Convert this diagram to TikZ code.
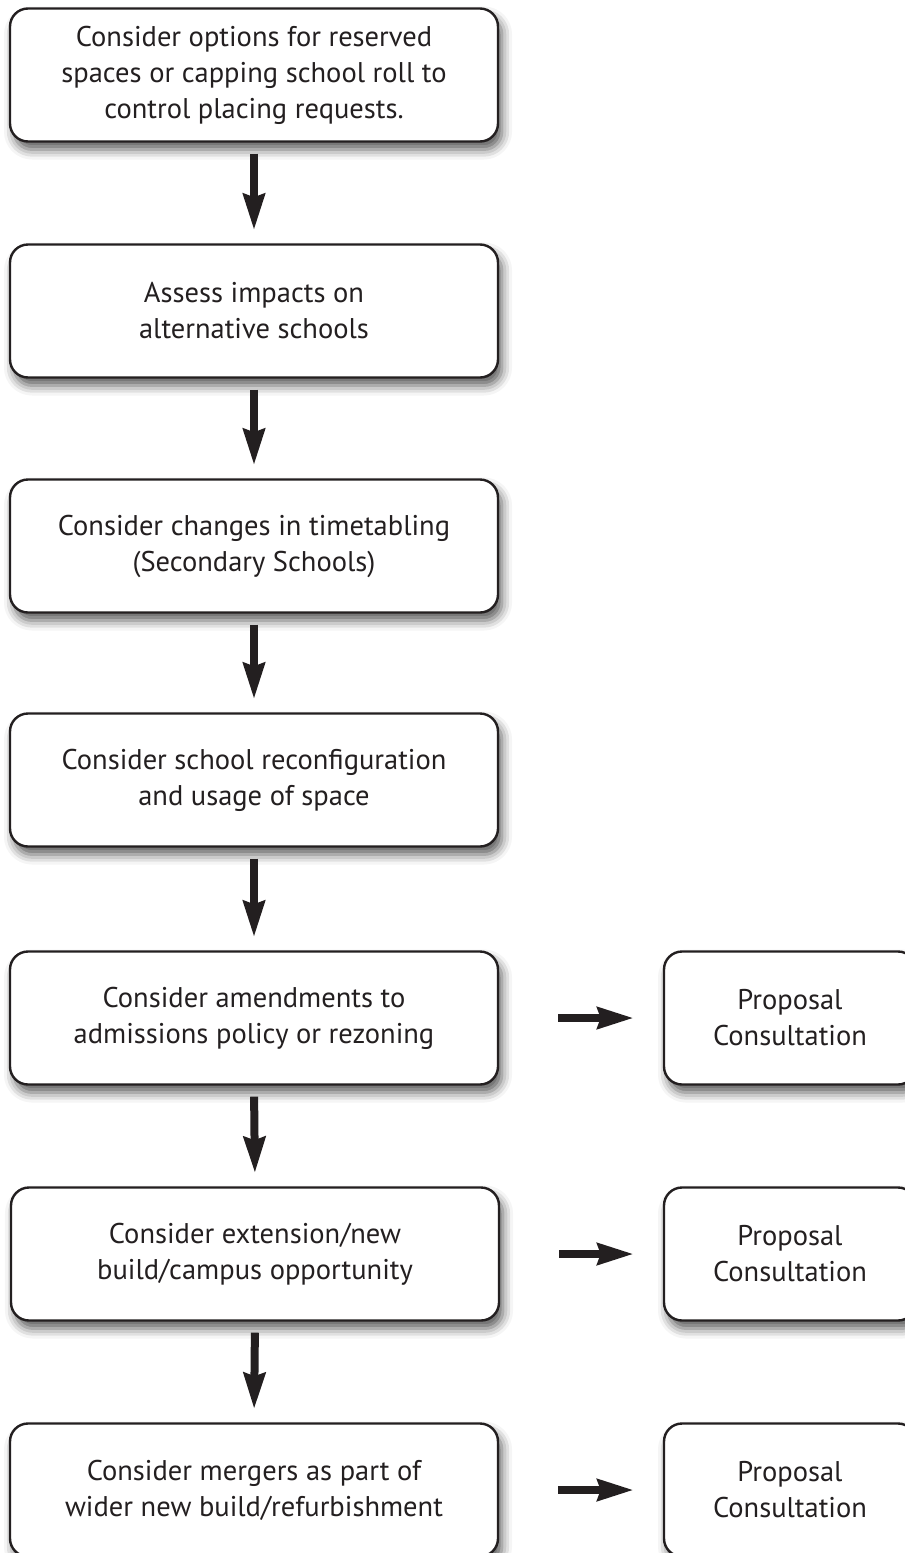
\documentclass[tikz,border=0pt]{standalone}
\usepackage{fontspec}
\setmainfont{PT Sans}
\usetikzlibrary{arrows.meta,shadows.blur}

\definecolor{inkgray}{HTML}{231F20}

\tikzset{
  stagebox/.style={draw=inkgray, line width=2.4pt, rounded corners=18pt, fill=white,
    minimum width=488pt, minimum height=133pt, align=center, text=inkgray,
    font=\fontsize{28.5pt}{36pt}\selectfont,
    blur shadow={shadow xshift=4pt, shadow yshift=-8pt, shadow blur radius=10pt, shadow opacity=65}},
  outbox/.style={stagebox, minimum width=252pt},
  fatarrow/.style={draw=inkgray, line width=8pt,
    -{Stealth[length=36pt,width=21pt,inset=3pt,fill=inkgray]}}
}

\begin{document}
\begin{tikzpicture}[x=1pt,y=-1pt]

\useasboundingbox (0,0) rectangle (905,1553);
\clip (0,0) rectangle (905,1553);

% colonne principale
\node[stagebox] (opts)   at (254,75)   {Consider options for reserved\\spaces or capping school roll to\\control placing requests.};
\node[stagebox] (assess) at (254,311)  {Assess impacts on\\alternative schools};
\node[stagebox] (timet)  at (254,546)  {Consider changes in timetabling\\(Secondary Schools)};
\node[stagebox] (reconf) at (254,780)  {Consider school reconfiguration\\and usage of space};
\node[stagebox] (amend)  at (254,1018) {Consider amendments to\\admissions policy or rezoning};
\node[stagebox] (extn)   at (255,1254) {Consider extension/new\\build/campus opportunity};
\node[stagebox] (merge)  at (254,1490) {Consider mergers as part of\\wider new build/refurbishment};

% consultations
\node[outbox] (consA) at (790,1018) {Proposal\\Consultation};
\node[outbox] (consB) at (790,1254) {Proposal\\Consultation};
\node[outbox] (consC) at (790,1490) {Proposal\\Consultation};

\foreach \a/\b in {opts/assess,assess/timet,timet/reconf,reconf/amend,amend/extn,extn/merge}
  \draw[fatarrow, shorten <=11pt, shorten >=13pt] (\a.south) -- (\b.north);

\foreach \a/\b in {amend/consA,extn/consB,merge/consC}
  \draw[fatarrow, shorten <=59pt, shorten >=29pt] (\a.east) -- (\b.west);

\end{tikzpicture}
\end{document}
